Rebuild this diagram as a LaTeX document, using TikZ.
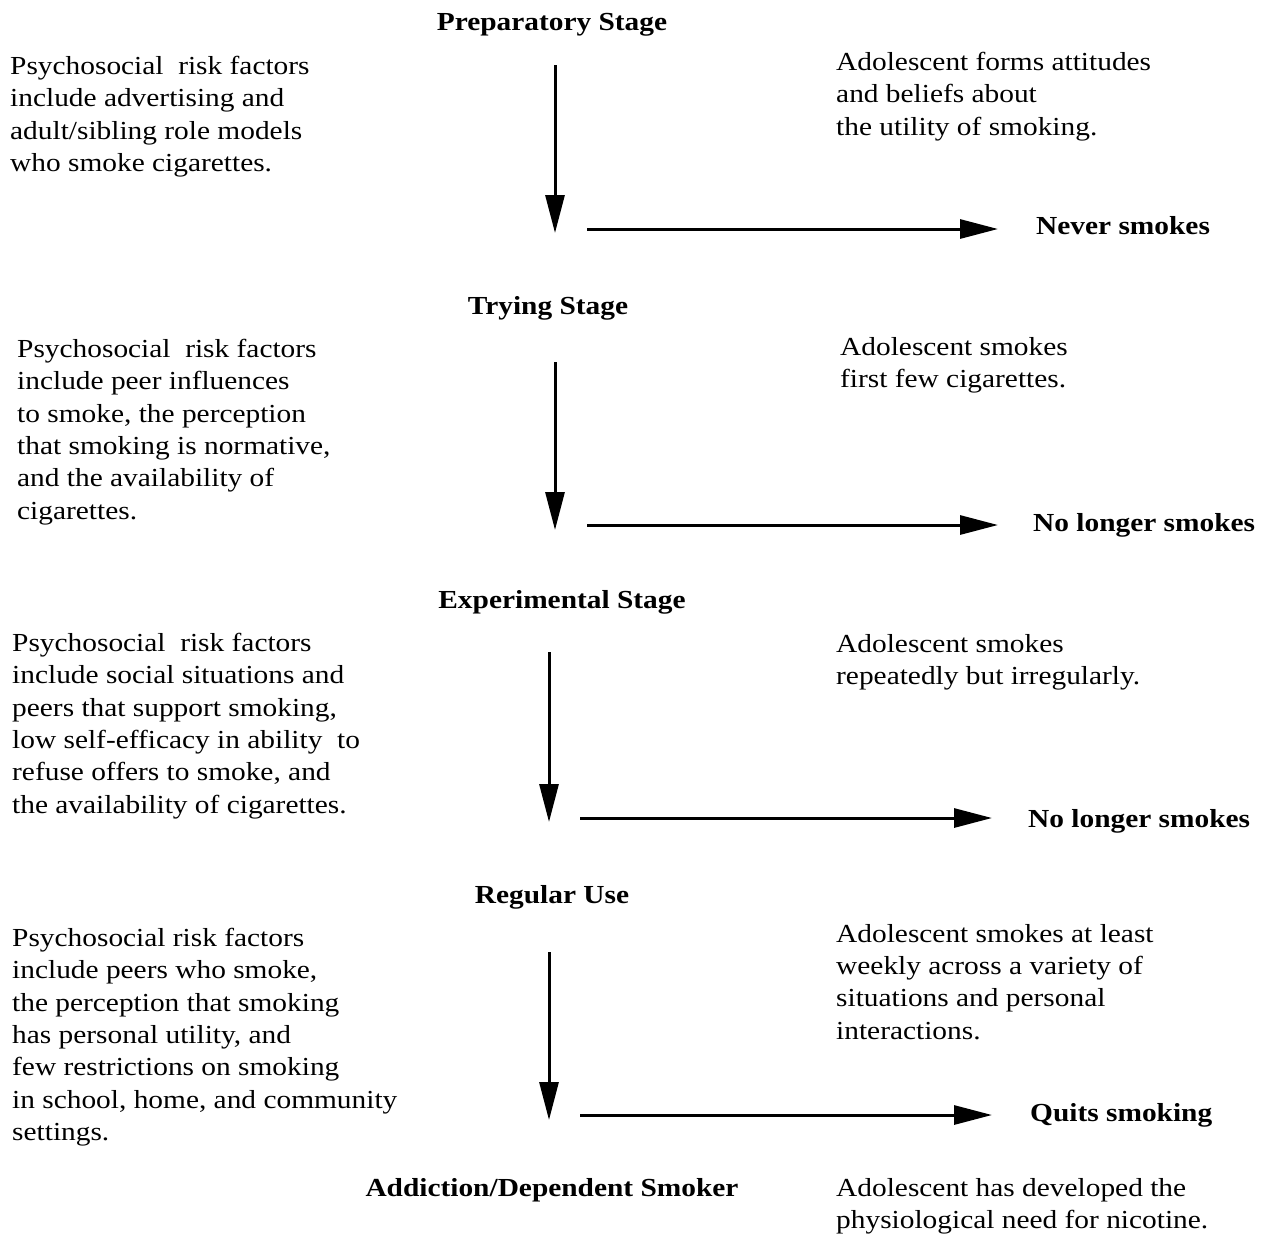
\documentclass[tikz,border=0pt]{standalone}
\usepackage{fontspec}
\setmainfont[FakeStretch=1.13]{Liberation Serif}
\usetikzlibrary{arrows.meta}
\begin{document}
\begin{tikzpicture}[x=1pt,y=-1pt,
  txt/.style={inner sep=0pt,align=left,anchor=north west,font=\fontsize{26}{32.3}\selectfont},
  lbl/.style={inner sep=0pt,anchor=base,font=\fontsize{26}{32.3}\selectfont\bfseries},
  lblw/.style={inner sep=0pt,anchor=base west,font=\fontsize{26}{32.3}\selectfont\bfseries},
  flow/.style={line width=3pt,-{Triangle[length=38pt,width=19pt]}}]
\useasboundingbox (0,0) rectangle (1266,1235);
% Stage 1
\node[lbl] (s1) at (552,30) {Preparatory Stage};
\node[txt] (l1) at (10,56) {Psychosocial\ \ risk factors\\include advertising and\\adult/sibling role models\\who smoke cigarettes.};
\node[txt] (r1) at (836,52) {Adolescent forms attitudes\\and beliefs about\\the utility of smoking.};
\coordinate (v1a) at (555,65); \coordinate (v1b) at (555,233);
\draw[flow] (v1a) -- (v1b);
\coordinate (h1a) at (587,229);
\node[lblw] (o1) at (1036,234) {Never smokes};
\draw[flow] (h1a) -- ++(411,0) coordinate (h1b);
% Stage 2
\node[lbl] (s2) at (548,314) {Trying Stage};
\node[txt] (l2) at (17,339) {Psychosocial\ \ risk factors\\include peer influences\\to smoke, the perception\\that smoking is normative,\\and the availability of\\cigarettes.};
\node[txt] (r2) at (840,337) {Adolescent smokes\\first few cigarettes.};
\coordinate (v2a) at (555,362); \coordinate (v2b) at (555,530);
\draw[flow] (v2a) -- (v2b);
\coordinate (h2a) at (587,525);
\node[lblw] (o2) at (1033,531) {No longer smokes};
\draw[flow] (h2a) -- ++(411,0) coordinate (h2b);
% Stage 3
\node[lbl] (s3) at (562,608) {Experimental Stage};
\node[txt] (l3) at (12,633) {Psychosocial\ \ risk factors\\include social situations and\\peers that support smoking,\\low self-efficacy in ability\ \ to\\refuse offers to smoke, and\\the availability of cigarettes.};
\node[txt] (r3) at (836,634) {Adolescent smokes\\repeatedly but irregularly.};
\coordinate (v3a) at (549,652); \coordinate (v3b) at (549,822);
\draw[flow] (v3a) -- (v3b);
\coordinate (h3a) at (580,818);
\node[lblw] (o3) at (1028,827) {No longer smokes};
\draw[flow] (h3a) -- ++(412,0) coordinate (h3b);
% Stage 4
\node[lbl] (s4) at (552,903) {Regular Use};
\node[txt] (l4) at (12,928) {Psychosocial risk factors\\include peers who smoke,\\the perception that smoking\\has personal utility, and\\few restrictions on smoking\\in school, home, and community\\settings.};
\node[txt] (r4) at (836,924) {Adolescent smokes at least\\weekly across a variety of\\situations and personal\\interactions.};
\coordinate (v4a) at (549,952); \coordinate (v4b) at (549,1120);
\draw[flow] (v4a) -- (v4b);
\coordinate (h4a) at (580,1115);
\node[lblw] (o4) at (1030,1121) {Quits smoking};
\draw[flow] (h4a) -- ++(412,0) coordinate (h4b);
% Final
\node[lbl] (s5) at (552,1196) {Addiction/Dependent Smoker};
\node[txt] (r5) at (836,1178) {Adolescent has developed the\\physiological need for nicotine.};
\end{tikzpicture}
\end{document}
